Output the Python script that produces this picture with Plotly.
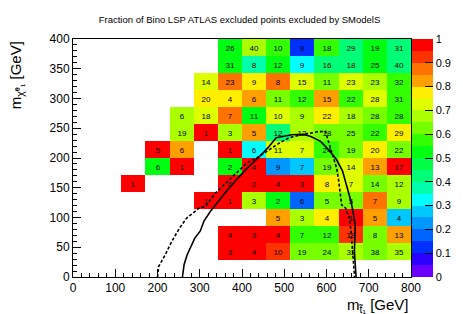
import plotly.graph_objects as go
import numpy as np

title_text = "Fraction of Bino LSP ATLAS excluded points excluded by SModelS"
x_range = [0, 800]
y_range = [0, 400]
n_bins_x = 14
n_bins_y = 14

N = None
# rows from bottom (row 0, m_chi 0-28.6) to top (row 13); None = no point
counts = [
    [N, N, N, N, N, N, N, N, N, N, N, N, N, N],
    [N, N, N, N, N, N, 3, 4, 10, 19, 24, 32, 38, 35],
    [N, N, N, N, N, N, 4, 3, 4, 7, 12, 19, 8, 13],
    [N, N, N, N, N, N, N, N, 5, 3, 4, 1, 5, 4],
    [N, N, N, N, N, 1, 1, 3, 2, 6, 5, 5, 7, 9],
    [N, N, 1, N, N, N, 6, 2, 4, 3, 8, 7, 14, 12],
    [N, N, N, 6, 1, N, 2, 4, 9, 7, 19, 14, 13, 17],
    [N, N, N, 5, 6, N, 1, 6, 11, 7, 24, 19, 20, 22],
    [N, N, N, N, 19, 1, 3, 5, 12, 12, 18, 25, 22, 29],
    [N, N, N, N, 6, 18, 7, 11, 10, 9, 22, 18, 28, 28],
    [N, N, N, N, N, 20, 4, 6, 11, 12, 15, 22, 28, 31],
    [N, N, N, N, N, 14, 23, 9, 8, 15, 11, 23, 23, 32],
    [N, N, N, N, N, N, 31, 8, 12, 9, 16, 18, 25, 40],
    [N, N, N, N, N, N, 26, 40, 10, 9, 18, 29, 19, 31],
]

fractions = [
    [N, N, N, N, N, N, N, N, N, N, N, N, N, N],
    [N, N, N, N, N, N, 1.0, 1.0, 0.92, 0.63, 0.625, 0.656, 0.63, 0.66],
    [N, N, N, N, N, N, 1.0, 1.0, 1.0, 0.57, 0.58, 0.947, 0.625, 0.846],
    [N, N, N, N, N, N, N, N, 0.82, 0.67, 0.77, 1.0, 0.82, 0.27],
    [N, N, N, N, N, 1.0, 1.0, 0.67, 0.51, 0.17, 0.62, 0.62, 0.86, 0.67],
    [N, N, 1.0, N, N, N, 1.0, 1.0, 1.0, 1.0, 0.77, 0.71, 0.61, 0.67],
    [N, N, N, 0.51, 1.0, N, 0.52, 1.0, 0.22, 0.29, 0.63, 0.71, 0.846, 0.97],
    [N, N, N, 1.0, 0.83, N, 1.0, 0.33, 0.73, 0.71, 0.58, 0.63, 0.77, 0.64],
    [N, N, N, N, 0.68, 1.0, 0.67, 0.82, 0.42, 0.67, 0.61, 0.64, 0.55, 0.79],
    [N, N, N, N, 0.67, 0.72, 0.86, 0.545, 0.71, 0.67, 0.77, 0.67, 0.64, 0.59],
    [N, N, N, N, N, 0.76, 0.76, 0.83, 0.64, 0.58, 0.82, 0.59, 0.71, 0.58],
    [N, N, N, N, N, 0.71, 0.87, 0.78, 0.875, 0.73, 0.64, 0.74, 0.696, 0.56],
    [N, N, N, N, N, N, 0.52, 0.375, 0.51, 0.33, 0.44, 0.44, 0.52, 0.43],
    [N, N, N, N, N, N, 0.54, 0.65, 0.56, 0.11, 0.56, 0.41, 0.53, 0.42],
]

# ATLAS exclusion contours (GeV)
obs_x = [259, 263, 270, 288, 301, 310, 325, 337, 352, 363, 390, 412, 438, 450, 461, 481,
         518, 545, 563, 586, 605, 624, 638, 647, 658, 664, 668, 667, 666, 668, 670]
obs_y = [0, 21, 37, 65, 77, 94, 110, 121, 133, 144, 166, 183, 200, 208, 217, 234,
         239, 240, 236, 228, 214, 197, 178, 155, 127, 105, 88, 65, 43, 21, 0]
exp_x = [200, 203, 218, 234, 252, 269, 299, 314, 337, 367, 390, 412, 435, 458, 473, 488,
         511, 541, 579, 598, 602, 609, 617, 624, 628, 632, 636, 645, 654, 658, 661, 664, 666, 666]
exp_y = [0, 18, 37, 60, 82, 99, 116, 119, 141, 161, 178, 192, 200, 211, 217, 225,
         234, 239, 244, 245, 234, 217, 200, 183, 166, 144, 121, 116, 99, 77, 54, 32, 4, 0]

tick_vals_z = [0, 0.1, 0.2, 0.3, 0.4, 0.5, 0.6, 0.7, 0.8, 0.9, 1.0]
tick_text_z = ["0", "0.1", "0.2", "0.3", "0.4", "0.5", "0.6", "0.7", "0.8", "0.9", "1"]

# ROOT-like 20-band palette (bottom to top)
band_colors = ["#6a00ff", "#2a00ff", "#0030ff", "#0064ff", "#0098ff", "#00c8ff", "#00ffff",
               "#00ffaa", "#00ff77", "#00ff44", "#00ff10", "#33ff00", "#77ff00", "#aaff00",
               "#ddff00", "#ffee00", "#ffa000", "#ff7300", "#ff3300", "#ff0000"]
nb = len(band_colors)
colorscale = []
for k, c in enumerate(band_colors):
    colorscale.append([k / nb, c])
    colorscale.append([(k + 1) / nb, c])

bw_x = (x_range[1] - x_range[0]) / n_bins_x
bw_y = (y_range[1] - y_range[0]) / n_bins_y
xc = [x_range[0] + (i + 0.5) * bw_x for i in range(n_bins_x)]
yc = [y_range[0] + (j + 0.5) * bw_y for j in range(n_bins_y)]
text = [["" if v is None else str(v) for v in row] for row in counts]

FONT = "Liberation Sans, Arial, Helvetica, sans-serif"

fig = go.Figure()
fig.add_trace(go.Heatmap(
    x=xc, y=yc, z=fractions, text=text, texttemplate="%{text}",
    textfont=dict(size=8, color="black", family=FONT),
    colorscale=colorscale, zmin=0, zmax=1, zsmooth=False, hoverongaps=False,
    colorbar=dict(
        x=1.0015, xanchor="left", xpad=0, y=0.5, yanchor="middle", ypad=0,
        len=1, lenmode="fraction", thickness=21, outlinewidth=0,
        tickvals=tick_vals_z, ticktext=tick_text_z, ticks="inside", ticklen=8,
        tickcolor="black", tickwidth=1,
        tickfont=dict(size=11, color="black", family=FONT),
    ),
))
fig.add_trace(go.Scatter(x=obs_x, y=obs_y, mode="lines",
                         line=dict(color="black", width=1.6), hoverinfo="skip"))
fig.add_trace(go.Scatter(x=exp_x, y=exp_y, mode="lines",
                         line=dict(color="black", width=1.6, dash="3px,2px"), hoverinfo="skip"))

axis_common = dict(
    showline=True, linecolor="black", linewidth=1, mirror=True,
    ticks="inside", ticklen=8, tickwidth=1, tickcolor="black",
    showgrid=False, zeroline=False,
    tickfont=dict(size=12, color="black", family=FONT),
)
fig.update_xaxes(range=x_range, dtick=100, tick0=0,
                 minor=dict(dtick=20, ticks="inside", ticklen=4, tickcolor="black"),
                 **axis_common)
fig.update_yaxes(range=y_range, dtick=50, tick0=0,
                 minor=dict(dtick=10, ticks="inside", ticklen=4, tickcolor="black"),
                 **axis_common)

fig.update_layout(
    width=463, height=314,
    margin=dict(l=65, r=45, t=31, b=45),
    paper_bgcolor="white", plot_bgcolor="white",
    showlegend=False,
    title=dict(text=title_text, x=0.5, xanchor="center", y=1 - 12 / 314, yanchor="middle",
               yref="container", font=dict(size=9.5, color="black", family=FONT)),
    annotations=[
        dict(text="m<sub>t̃₁</sub> [GeV]", xref="paper", yref="paper",
             x=1.0, y=-0.07, xanchor="right", yanchor="top", showarrow=False,
             font=dict(size=15, color="black", family=FONT)),
        dict(text="m<sub>χ̃⁰₁</sub> [GeV]", xref="paper", yref="paper",
             x=-0.168, y=1.0, xanchor="center", yanchor="top", textangle=-90, showarrow=False,
             font=dict(size=15, color="black", family=FONT)),
    ],
)

fig.write_html("out.html")
